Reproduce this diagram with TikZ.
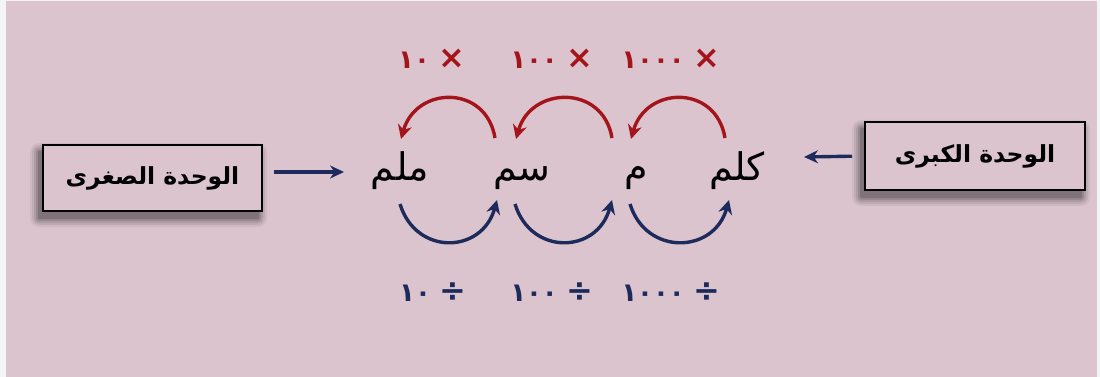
\documentclass[tikz,border=0pt]{standalone}
\usepackage{fontspec}
\newfontfamily\arabicfont[Script=Arabic]{DejaVu Sans}
\TeXXeTstate=1
\usetikzlibrary{arrows.meta}
\definecolor{bg}{HTML}{DBC4CE}
\definecolor{edgec}{HTML}{F4F3F6}
\definecolor{redc}{HTML}{A3151B}
\definecolor{bluec}{HTML}{1C2B5C}
\newcommand{\bigop}[1]{{\fontsize{32}{34}\selectfont #1}}
\tikzset{
  ubox/.style={draw=black, line width=2pt, fill=bg, minimum width=219pt, minimum height=66pt, inner sep=0pt,
    font=\arabicfont\bfseries\fontsize{23.5}{26}\selectfont},
  word/.style={inner sep=0pt, anchor=base, font=\arabicfont\fontsize{38}{44}\selectfont},
  redlab/.style={inner sep=0pt, anchor=base, text=redc, font=\arabicfont\bfseries\fontsize{26}{30}\selectfont},
  bluelab/.style={inner sep=0pt, anchor=base, text=bluec, font=\arabicfont\bfseries\fontsize{26}{30}\selectfont},
  redarr/.style={draw=redc, line width=3.4pt, -{Stealth[length=14pt,width=14pt]}},
  bluearr/.style={draw=bluec, line width=3.4pt, -{Stealth[length=14pt,width=14pt]}},
  harr/.style={draw=bluec, line width=3.4pt, -{Stealth[length=14pt,width=13pt]}},
}
\begin{document}
\begin{tikzpicture}[x=1pt,y=-1pt]
\useasboundingbox (0,0) rectangle (1100,377);
\fill[edgec] (0,0) rectangle (1100,377);
\fill[bg] (6,1) rectangle (1097,377);
% soft shadows
\foreach \d/\o in {9/0.05,7/0.07,5/0.09,3/0.12,1/0.16}{
  \fill[black,opacity=\o,rounded corners=\d pt] (43-4-\d,145+7-\d) rectangle (262-4+\d,211+7+\d);
  \fill[black,opacity=\o,rounded corners=\d pt] (865-4-\d,122+7-\d) rectangle (1085-4+\d,190+7+\d);
}
% boxes
\node[ubox] (small) at (152.5,178) {\beginR الوحدة الصغرى\endR};
\node[ubox, minimum width=220pt, minimum height=68pt] (big) at (975,156) {\beginR الوحدة الكبرى\endR};
% unit words
\node[word] (mlm) at (400,180) {\beginR ملم\endR};
\node[word] (sm) at (522,180) {\beginR سم\endR};
\node[word] (m) at (636,180) {\beginR م\endR};
\node[word] (klm) at (737,180) {\beginR كلم\endR};
% red labels
\node[redlab] (x10) at (432,69) {\beginR \bigop{×} ١٠\endR};
\node[redlab] (x100) at (552,69) {\beginR \bigop{×} ١٠٠\endR};
\node[redlab] (x1000) at (671,69) {\beginR \bigop{×} ١٠٠٠\endR};
% blue labels
\node[bluelab] (d10) at (433,301) {\beginR \bigop{÷} ١٠\endR};
\node[bluelab] (d100) at (552,301) {\beginR \bigop{÷} ١٠٠\endR};
\node[bluelab] (d1000) at (671,301) {\beginR \bigop{÷} ١٠٠٠\endR};
% arrow end points
\coordinate (r1s) at (495,138); \coordinate (r1e) at (401,139);
\coordinate (r2s) at (612,138); \coordinate (r2e) at (516,139);
\coordinate (r3s) at (725,138); \coordinate (r3e) at (631,139);
\coordinate (b1s) at (400,204); \coordinate (b1e) at (497,200);
\coordinate (b2s) at (515,204); \coordinate (b2e) at (612,200);
\coordinate (b3s) at (630,204); \coordinate (b3e) at (729,200);
\draw[redarr] (r1s) .. controls (486,84) and (416,86) .. (r1e);
\draw[redarr] (r2s) .. controls (603,84) and (531,86) .. (r2e);
\draw[redarr] (r3s) .. controls (716,84) and (646,86) .. (r3e);
\draw[bluearr] (b1s) .. controls (416,256) and (482,254) .. (b1e);
\draw[bluearr] (b2s) .. controls (531,256) and (597,254) .. (b2e);
\draw[bluearr] (b3s) .. controls (646,256) and (714,254) .. (b3e);
% horizontal arrows
\coordinate (hl) at (344,172);
\coordinate (hr) at (804,157);
\draw[harr] (small.east |- hl) ++(11,0) -- (hl);
\draw[harr, shorten <=12pt] (big.west) -- (hr);
\end{tikzpicture}
\end{document}
